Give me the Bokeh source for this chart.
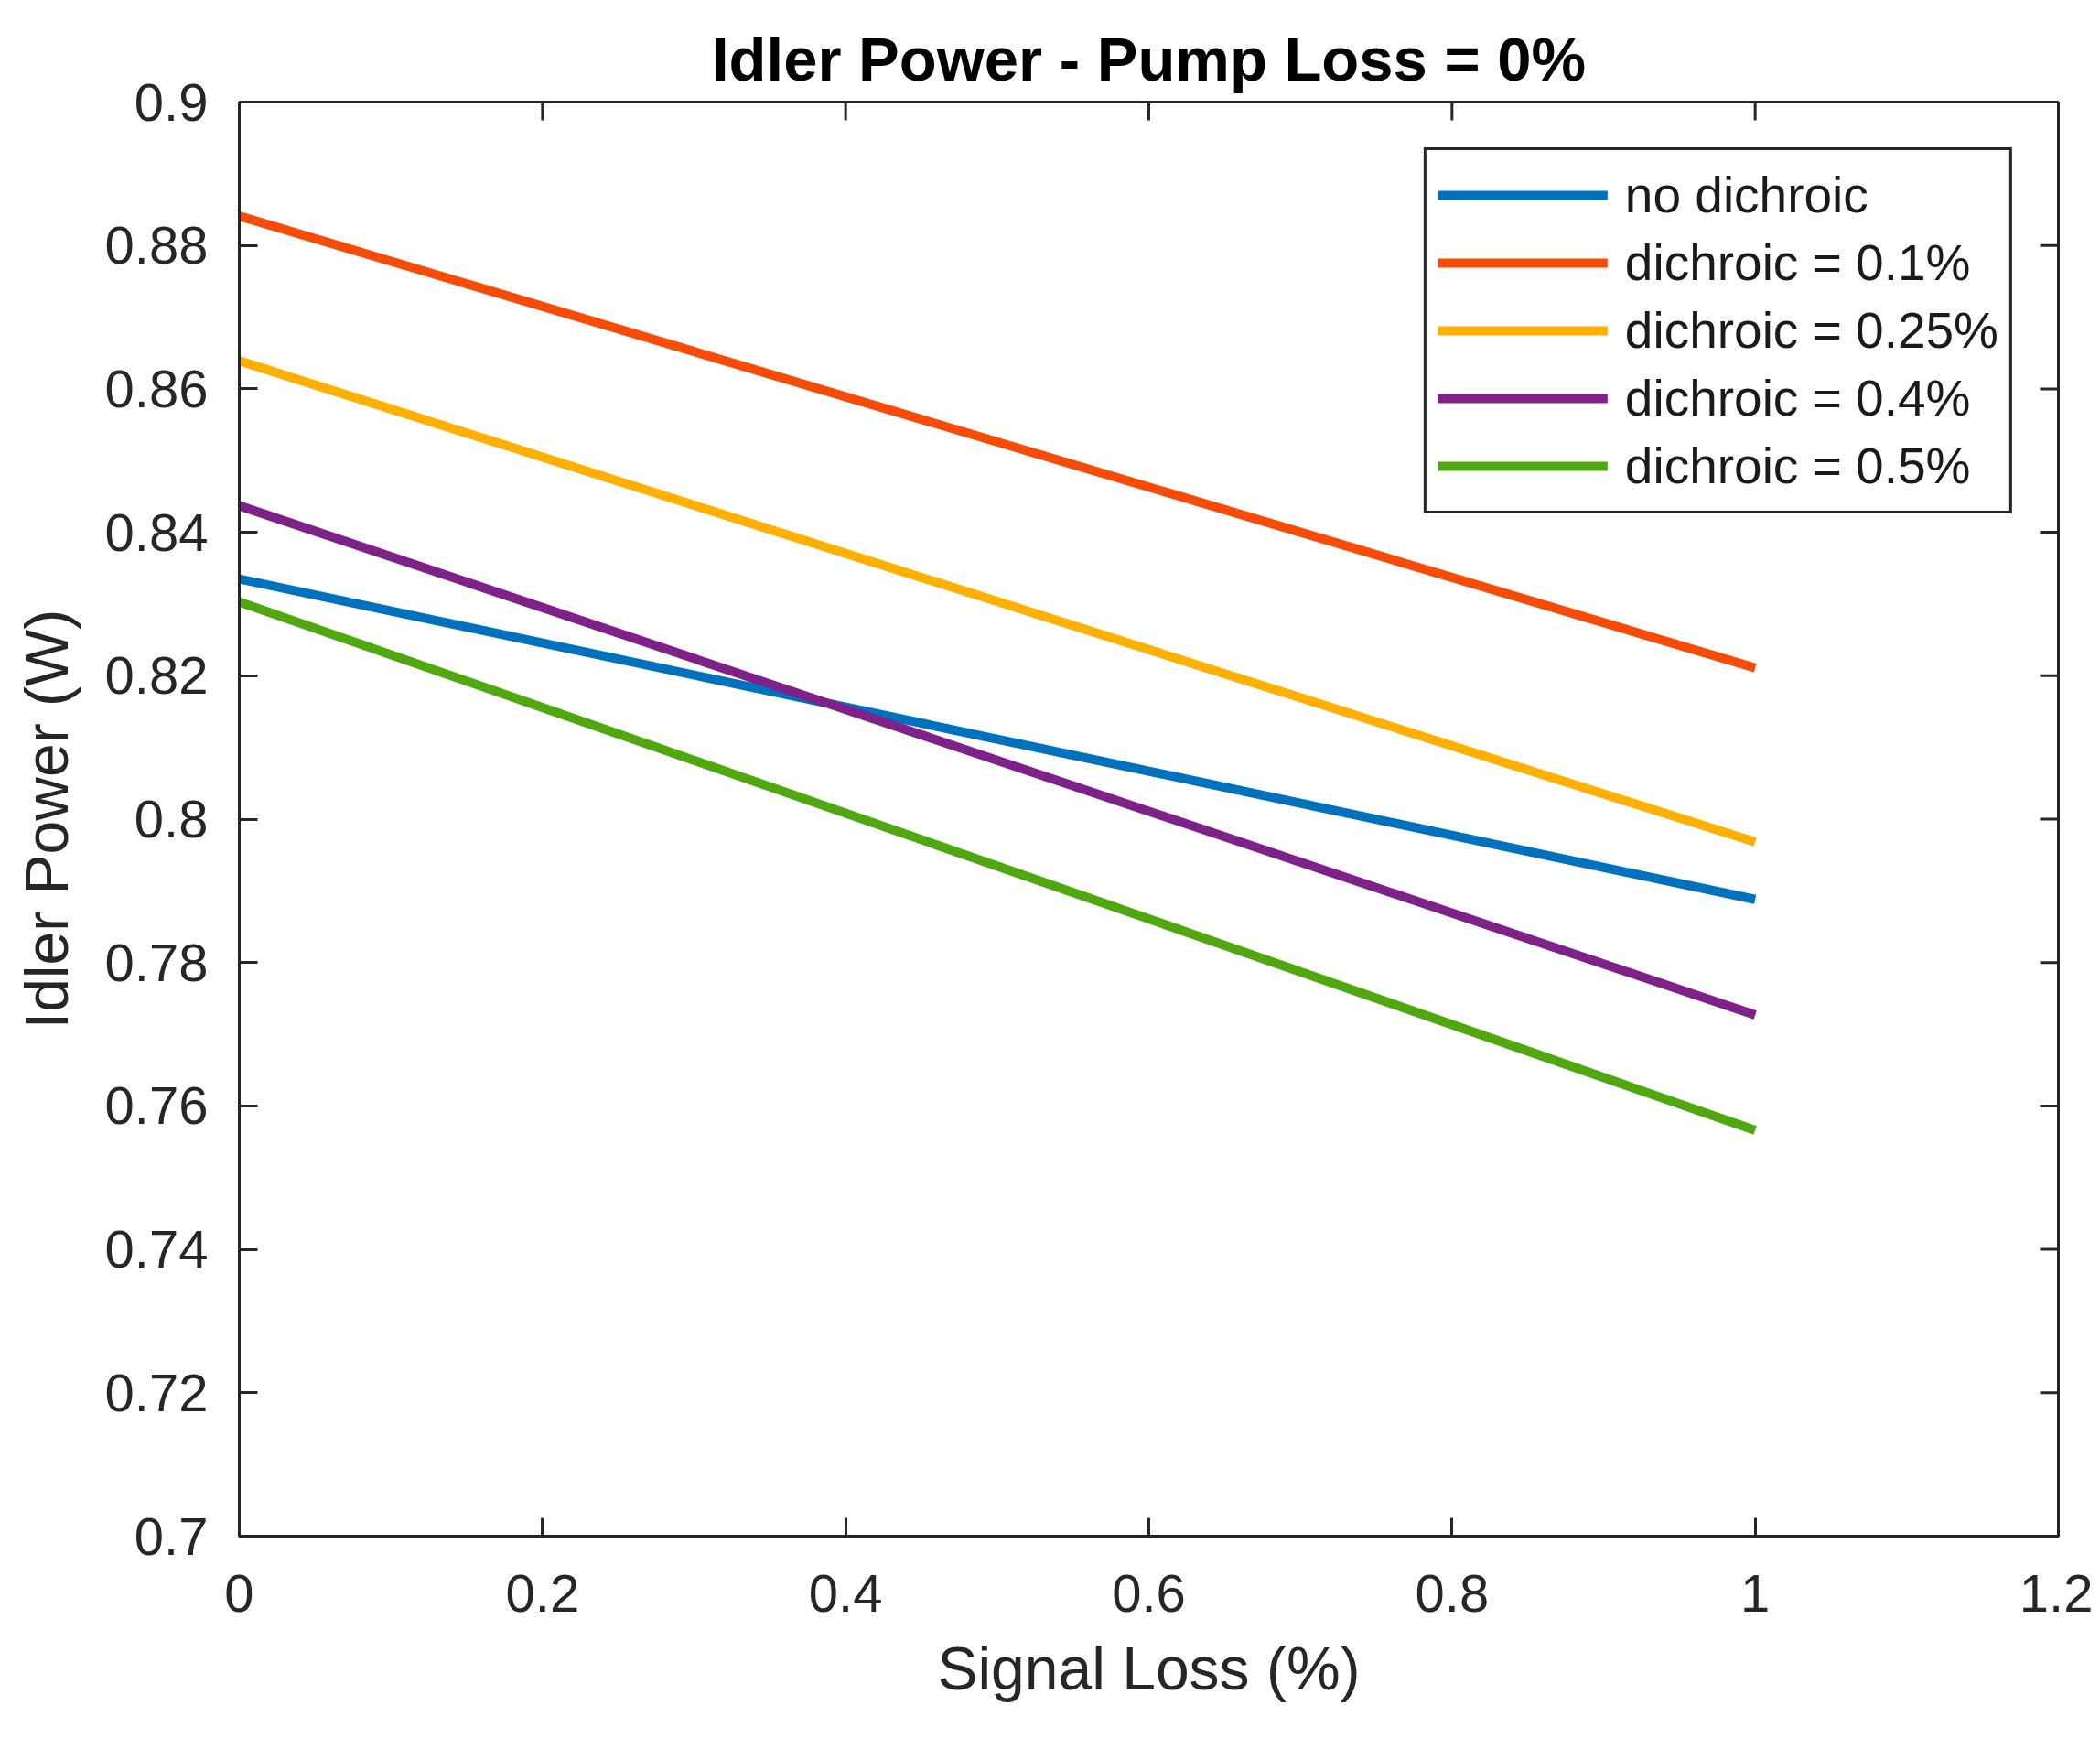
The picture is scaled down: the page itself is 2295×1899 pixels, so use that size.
from bokeh.plotting import figure
from bokeh.models import Range1d, FixedTicker, Legend, LegendItem
from bokeh.embed import file_html
from bokeh.resources import INLINE

# ---- data ----
signal_loss = [0.0, 1.0]
no_dichroic = [0.8335, 0.7888]
dichroic_01 = [0.8841, 0.8211]
dichroic_025 = [0.8639, 0.7968]
dichroic_04 = [0.8437, 0.7727]
dichroic_05 = [0.8303, 0.7566]

series_labels = ["no dichroic", "dichroic = 0.1%", "dichroic = 0.25%",
                 "dichroic = 0.4%", "dichroic = 0.5%"]
series_values = [no_dichroic, dichroic_01, dichroic_025, dichroic_04, dichroic_05]
series_colors = ["#0072BD", "#F94B08", "#FFB000", "#7E2189", "#4FA80F"]

x_ticks = [0, 0.2, 0.4, 0.6, 0.8, 1.0, 1.2]
x_tick_labels = ["0", "0.2", "0.4", "0.6", "0.8", "1", "1.2"]
y_ticks = [0.7, 0.72, 0.74, 0.76, 0.78, 0.8, 0.82, 0.84, 0.86, 0.88, 0.9]
y_tick_labels = ["0.7", "0.72", "0.74", "0.76", "0.78", "0.8", "0.82", "0.84",
                 "0.86", "0.88", "0.9"]

x_min, x_max = 0.0, 1.2
y_min, y_max = 0.7, 0.9

FONT = "Liberation Sans"
AX = "#262626"
TICK_LEN = 20

p = figure(width=2287, height=1891, output_backend="svg", toolbar_location=None,
           x_range=Range1d(x_min, x_max), y_range=Range1d(y_min, y_max),
           min_border_left=261, min_border_right=38,
           min_border_top=111, min_border_bottom=213)

p.background_fill_color = "white"
p.border_fill_color = "white"
p.grid.visible = False
p.outline_line_color = AX
p.outline_line_width = 3
p.outline_line_alpha = 1.0

p.title.text = "Idler Power - Pump Loss = 0%"
p.title.text_font = FONT
p.title.text_font_size = "67px"
p.title.text_font_style = "bold"
p.title.text_color = "black"
p.title.align = "center"
p.title.standoff = 19

xt = FixedTicker(ticks=x_ticks)
yt = FixedTicker(ticks=y_ticks)

for ax, tk, labs in ((p.xaxis[0], xt, x_tick_labels), (p.yaxis[0], yt, y_tick_labels)):
    ax.ticker = tk
    ax.major_label_overrides = {t: l for t, l in zip(tk.ticks, labs)}
    ax.major_label_text_font = FONT
    ax.major_label_text_font_size = "58px"
    ax.major_label_text_color = AX
    ax.axis_line_color = AX
    ax.axis_line_width = 3
    ax.major_tick_line_color = AX
    ax.major_tick_line_width = 3
    ax.major_tick_in = TICK_LEN
    ax.major_tick_out = 0
    ax.minor_tick_line_color = None
    ax.axis_label_text_font = FONT
    ax.axis_label_text_font_size = "66px"
    ax.axis_label_text_font_style = "normal"
    ax.axis_label_text_color = AX

p.xaxis[0].axis_label = "Signal Loss (%)"
p.xaxis[0].major_label_standoff = 42
p.xaxis[0].axis_label_standoff = 22
p.yaxis[0].axis_label = "Idler Power (W)"
p.yaxis[0].major_label_standoff = 34
p.yaxis[0].axis_label_standoff = 24

# mirrored inward ticks on the top and right edges of the box
p.ray(x=x_ticks, y=[y_max] * len(x_ticks), length=TICK_LEN, length_units="screen",
      angle=-90, angle_units="deg", line_color=AX, line_width=3)
p.ray(x=[x_max] * len(y_ticks), y=y_ticks, length=TICK_LEN, length_units="screen",
      angle=180, angle_units="deg", line_color=AX, line_width=3)

items = []
for lab, vals, col in zip(series_labels, series_values, series_colors):
    r = p.line(signal_loss, vals, line_color=col, line_width=10)
    items.append(LegendItem(label=lab, renderers=[r]))

legend = Legend(items=items, location="top_right")
legend.margin = 50
legend.padding = 12
legend.spacing = 0
legend.glyph_width = 186
legend.glyph_height = 74
legend.label_height = 74
legend.label_standoff = 19
legend.label_text_font = FONT
legend.label_text_font_size = "55px"
legend.label_text_color = "#1a1a1a"
legend.border_line_color = AX
legend.border_line_width = 3
legend.border_line_alpha = 1.0
legend.background_fill_color = "white"
legend.background_fill_alpha = 1.0
p.add_layout(legend)

open("out.html", "w").write(file_html(p, INLINE))
